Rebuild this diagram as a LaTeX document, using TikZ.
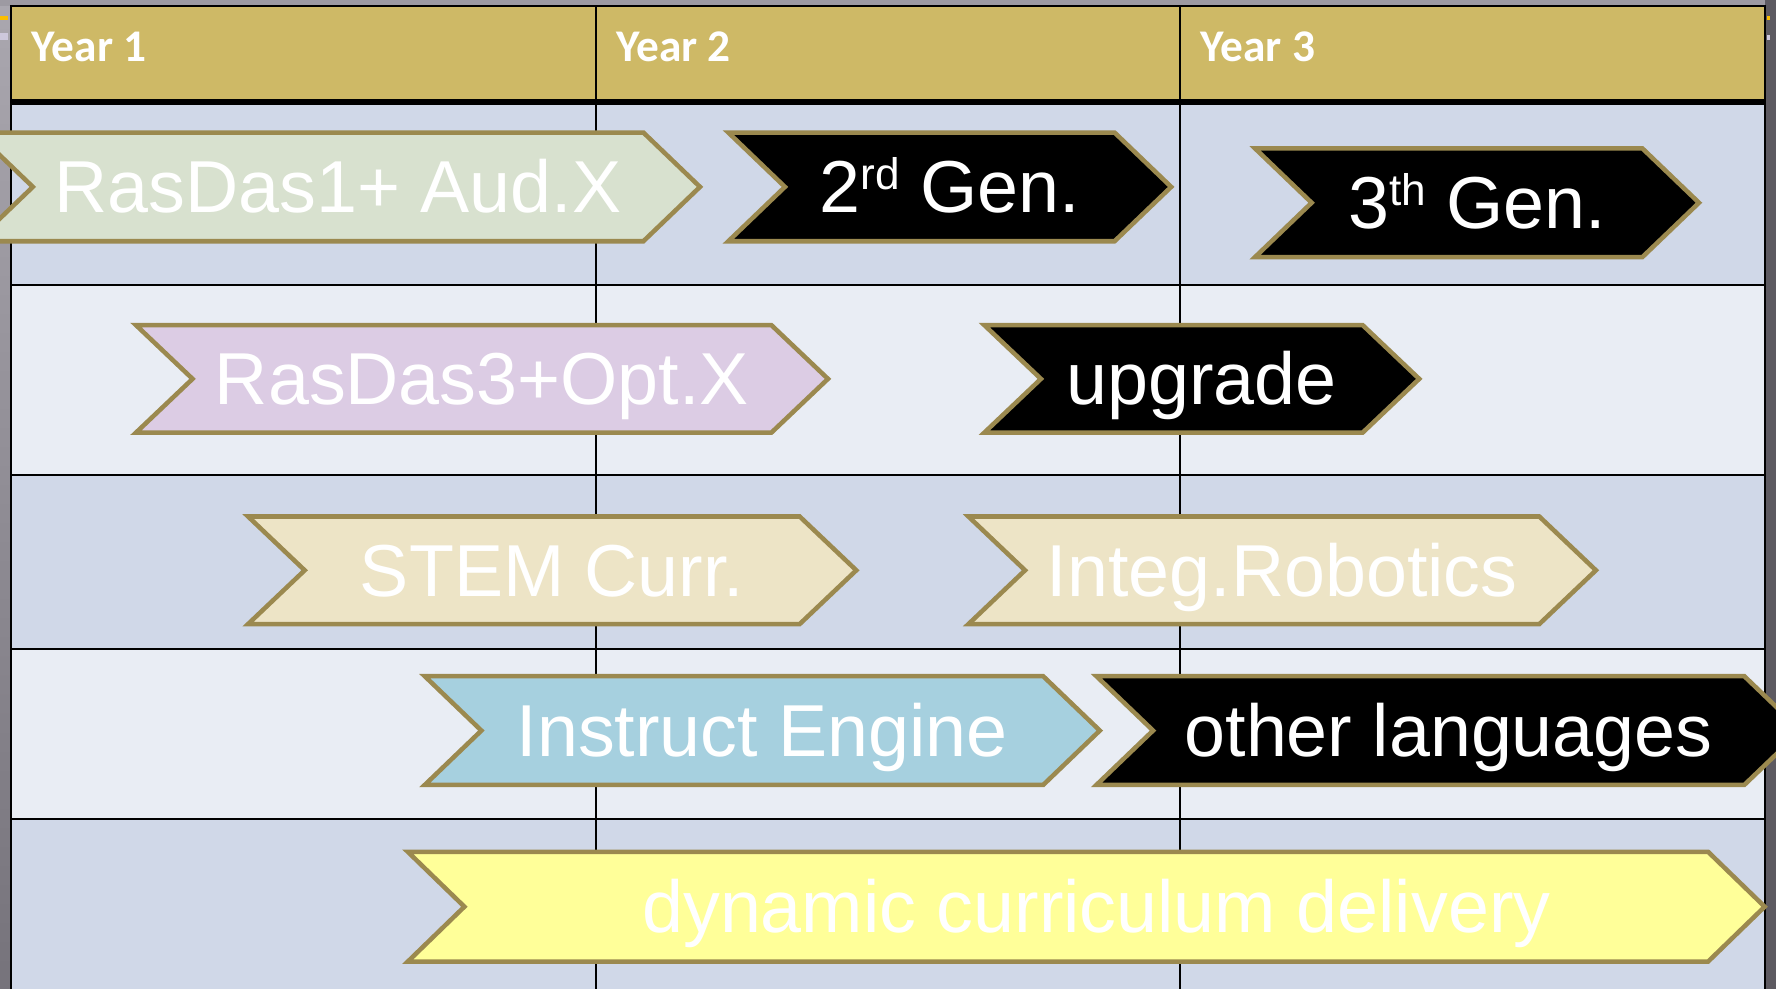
\documentclass[tikz,border=0pt]{standalone}
\usepackage{fontspec}
\setmainfont{Liberation Sans}
\newfontfamily\headfont{Carlito}

\definecolor{frame}{RGB}{93,90,97}
\definecolor{frameleftA}{RGB}{170,167,175}
\definecolor{frameleftB}{RGB}{118,115,123}
\definecolor{frametop}{RGB}{157,154,162}
\definecolor{headgold}{RGB}{206,185,102}
\definecolor{rowdark}{RGB}{208,216,232}
\definecolor{rowlight}{RGB}{233,237,244}
\definecolor{chevline}{RGB}{155,137,79}
\definecolor{sage}{RGB}{216,225,207}
\definecolor{lavender}{RGB}{220,204,228}
\definecolor{cream}{RGB}{237,228,198}
\definecolor{skyblue}{RGB}{166,208,223}
\definecolor{paleyellow}{RGB}{255,255,153}
\definecolor{marker}{RGB}{250,190,0}
\definecolor{markpale}{RGB}{205,200,220}

\tikzset{
  chev/.style={draw=chevline, line width=4pt, line join=miter, miter limit=10},
  chevlabel/.style={text=white, inner sep=0pt, anchor=base,
    font=\fontsize{65}{70}\selectfont},
  yearlabel/.style={text=white, inner sep=0pt, anchor=base west,
    font=\headfont\bfseries\fontsize{40}{44}\selectfont},
  gridline/.style={draw=black, line width=1.8pt},
}

% chevron bar: name, left x, tip x, top y, bottom y, fill, text x-shift, text
\newcommand\chevronbar[8]{%
  \draw[chev, fill=#6] (#2,#4) -- ({#3-50},#4) -- (#3,{(#4+#5)/2})
    -- ({#3-50},#5) -- (#2,#5) -- ({#2+50},{(#4+#5)/2}) -- cycle;
  \node[chevlabel] (#1) at ({(#2+#3)/2+#7},{(#4+#5)/2+23}) {#8};}

\newcommand\supr[1]{\raisebox{21pt}{\fontsize{39}{39}\selectfont #1}}

\begin{document}
\begin{tikzpicture}[x=1pt, y=-1pt]
\useasboundingbox (0,0) rectangle (1568,873);
\clip (0,0) rectangle (1568,873);

% surrounding window frame
\fill[frame] (0,0) rectangle (1568,873);
\shade[top color=frameleftA, bottom color=frameleftB] (0,0) rectangle (10,873);
\fill[frametop] (0,0) rectangle (1558,5);
\fill[marker] (0,14) rectangle (7,18);
\fill[markpale] (0,29) rectangle (7,35);
\fill[marker] (1560,14) rectangle (1563,18);
\fill[markpale] (1560,31) rectangle (1563,35);

% row bands
\fill[headgold]  (10,5)   rectangle (1558,90);
\fill[rowdark]   (10,90)  rectangle (1558,252);
\fill[rowlight]  (10,252) rectangle (1558,419);
\fill[rowdark]   (10,419) rectangle (1558,573);
\fill[rowlight]  (10,573) rectangle (1558,723);
\fill[rowdark]   (10,723) rectangle (1558,873);

% grid
\foreach \y in {252,419,573,723} \draw[gridline] (10,\y) -- (1558,\y);
\foreach \x in {526,1042} \draw[gridline] (\x,5) -- (\x,873);
\draw[gridline] (10,873) -- (10,5) -- (1558,5) -- (1558,873);
\draw[black, line width=6pt] (10,90) -- (1558,90);

% year headings
\node[yearlabel] (year1) at (28,54)   {Year 1};
\node[yearlabel] (year2) at (544,54)  {Year 2};
\node[yearlabel] (year3) at (1060,54) {Year 3};

% milestones
\chevronbar{rasdas1}{-21}{618}{117}{213}{sage}{0}{RasDas1+ Aud.X}
\chevronbar{gen2}{643}{1034}{117}{213}{black}{0}{2\supr{rd} Gen.}
\chevronbar{gen3}{1108}{1500}{131}{227}{black}{0}{3\supr{th} Gen.}
\chevronbar{rasdas3}{120}{731}{287}{382}{lavender}{0}{RasDas3+Opt.X}
\chevronbar{upgrade}{869}{1253}{287}{382}{black}{0}{upgrade}
\chevronbar{stem}{219}{756}{456}{551}{cream}{0}{STEM Curr.}
\chevronbar{robotics}{855}{1409}{456}{551}{cream}{0}{Integ.Robotics}
\chevronbar{engine}{375}{971}{597}{693}{skyblue}{0}{Instruct Engine}
\chevronbar{languages}{968}{1590}{597}{693}{black}{0}{other languages}
\chevronbar{delivery}{360}{1558}{752}{849}{paleyellow}{9}{dynamic curriculum delivery}
\end{tikzpicture}
\end{document}
